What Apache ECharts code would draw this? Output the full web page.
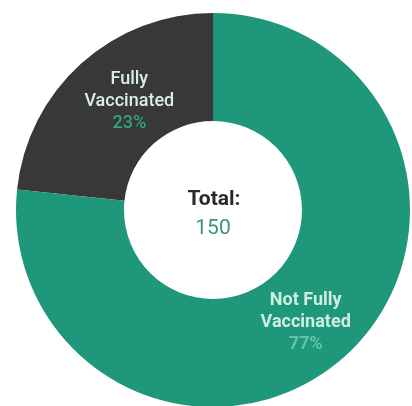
<!DOCTYPE html>
<html>
<head>
<meta charset="utf-8">
<script src="https://cdn.jsdelivr.net/npm/echarts@6/dist/echarts.min.js"></script>
<style>
  html, body { margin: 0; padding: 0; background: #fff; }
  #chart { width: 412px; height: 406px; }
</style>
</head>
<body>
<div id="chart"></div>
<script>
// slice order: dark slice first, drawn counter-clockwise from 12 o'clock
const categories = ['Fully\nVaccinated', 'Not Fully\nVaccinated']
const counts = [35, 115]
const colors = ['#383838', '#1f977a']
const labelPercents = ['23%', '77%']

const total = counts.reduce((a, b) => a + b, 0)

const chart = echarts.init(document.getElementById('chart'))

// small nudges so the labels sit where the original has them
const labelOffsets = [[14, 0], [-5, 4]]

chart.setOption({
  animation: false,
  graphic: [{
    type: 'text',
    x: 214,
    y: 189,
    style: {
      text: 'Total:',
      align: 'center',
      verticalAlign: 'top',
      font: 'bold 21px Roboto',
      fill: '#2a2a2a'
    }
  }, {
    type: 'text',
    x: 213,
    y: 218,
    style: {
      text: String(total),
      align: 'center',
      verticalAlign: 'top',
      font: '21px Roboto',
      fill: '#3b9677'
    }
  }],
  series: [{
    type: 'pie',
    center: [213, 210],
    radius: [89, 197],
    startAngle: 90,
    clockwise: false,
    silent: true,
    label: {
      position: 'inside',
      fontFamily: 'Roboto',
      formatter: function (p) {
        return '{n|' + p.name + '}\n{p|' + labelPercents[p.dataIndex] + '}'
      }
    },
    labelLine: { show: false },
    data: categories.map(function (name, i) {
      return {
        name: name,
        value: counts[i],
        itemStyle: { color: colors[i] },
        label: {
          offset: labelOffsets[i],
          rich: {
            n: {
              fontFamily: 'Roboto', fontSize: 18, lineHeight: 22, align: 'center',
              fontWeight: i === 0 ? 500 : 'bold',
              color: i === 0 ? '#d9efe4' : '#cfeee2'
            },
            p: {
              fontFamily: 'Roboto', fontSize: 18, lineHeight: 22, align: 'center',
              fontWeight: i === 0 ? 500 : 'bold',
              color: i === 0 ? '#2fa583' : '#63c4a3'
            }
          }
        }
      }
    })
  }]
})
</script>
</body>
</html>
